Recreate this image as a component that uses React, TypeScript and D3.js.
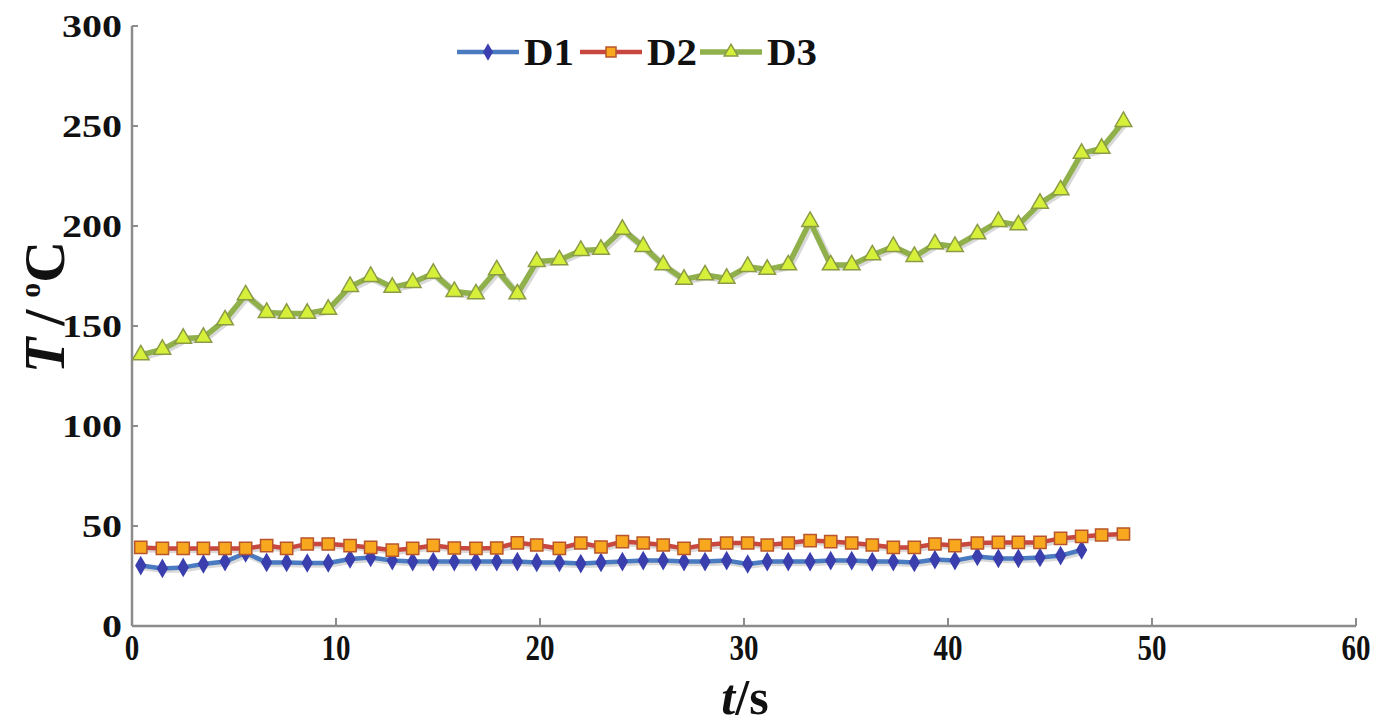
import React from "react";
import * as d3 from "d3";

const times = [0.43, 1.49, 2.51, 3.5, 4.56, 5.57, 6.6, 7.58, 8.59, 9.62, 10.69, 11.7, 12.76, 13.76, 14.77, 15.8, 16.86, 17.88, 18.89, 19.84, 20.95, 22.0, 22.99, 24.04, 25.06, 26.04, 27.06, 28.09, 29.15, 30.18, 31.14, 32.17, 33.24, 34.25, 35.28, 36.29, 37.32, 38.35, 39.36, 40.34, 41.44, 42.47, 43.45, 44.51, 45.52, 46.55, 47.53, 48.6];

const d1Values = [30.2, 28.8, 29.3, 31, 32.2, 36.5, 31.8, 31.8, 31.5, 31.5, 33.5, 34.3, 32.7, 32.2, 32.2, 32.2, 32.2, 32.2, 32.2, 31.8, 31.8, 31.2, 31.8, 32.2, 32.7, 32.7, 32.2, 32.2, 32.7, 31, 32.2, 32.2, 32.2, 32.7, 32.7, 32.2, 32.2, 31.8, 33.2, 32.7, 34.8, 33.8, 33.8, 34.3, 35.2, 38];

const d2Values = [39.3, 38.8, 38.8, 38.8, 38.8, 38.8, 40.2, 38.8, 41, 41, 40.2, 39.3, 37.9, 38.8, 40.3, 39, 38.8, 39, 41.6, 40.5, 38.8, 41.5, 39.5, 42.2, 41.5, 40.5, 38.8, 40.5, 41.5, 41.5, 40.5, 41.5, 42.7, 42.2, 41.5, 40.5, 39.3, 39.3, 41, 40.2, 41.5, 41.8, 41.8, 41.8, 43.8, 44.8, 45.5, 46];

const d3Values = [135.5, 138.3, 143.8, 144.3, 153, 165.5, 156.7, 156.3, 156.3, 158.3, 169.7, 174.7, 169.3, 171.7, 176.3, 167.2, 166, 178, 166, 182.2, 183, 187.7, 188.3, 198.3, 189.7, 180.5, 173.3, 175.5, 173.8, 179.7, 178.3, 180.5, 202.2, 180.5, 180.5, 185.5, 189.7, 184.7, 191, 189.7, 196, 202.2, 200.5, 211.3, 218, 236.3, 238.8, 252.2];

const xTicks = [0, 10, 20, 30, 40, 50, 60];
const yTicks = [0, 50, 100, 150, 200, 250, 300];
const seriesNames = ["D1", "D2", "D3"];

const FONT = "'Liberation Serif', 'Times New Roman', serif";

const x = d3.scaleLinear().domain([0, 60]).range([132, 1356]);
const y = d3.scaleLinear().domain([0, 300]).range([626, 26]);

type Pt = [number, number];
const mk = (vals: number[]): Pt[] => vals.map((v, i) => [times[i], v]);

const line = d3
  .line<Pt>()
  .x((d) => x(d[0]))
  .y((d) => y(d[1]));

const series = [
  {
    name: seriesNames[0],
    data: mk(d1Values),
    stroke: "#4a7ac0",
    width: 4.5,
    symbol: d3.symbolDiamond,
    size: 80,
    legendSize: 60,
    fill: "#3b3fae",
    mstroke: "#3b3fae",
  },
  {
    name: seriesNames[1],
    data: mk(d2Values),
    stroke: "#c8473f",
    width: 4.5,
    symbol: d3.symbolSquare,
    size: 150,
    legendSize: 100,
    fill: "#f7a81f",
    mstroke: "#b8552c",
  },
  {
    name: seriesNames[2],
    data: mk(d3Values),
    stroke: "#8fb04a",
    width: 5.5,
    symbol: d3.symbolTriangle,
    size: 120,
    legendSize: 80,
    fill: "#d6f03a",
    mstroke: "#8a9a45",
  },
];

const legendX = [457, 580, 700];
const legendY = 52;

export default function App() {
  return (
    <svg
      width={1386}
      height={725}
      style={{ position: "absolute", left: 0, top: 0, background: "#fff" }}
    >
      {/* axes */}
      <line x1={x(0)} x2={x(0)} y1={y(0)} y2={y(300)} stroke="#8c8c8c" strokeWidth={2.5} />
      <line x1={x(0)} x2={x(60)} y1={y(0)} y2={y(0)} stroke="#8c8c8c" strokeWidth={2.5} />
      {yTicks.map((t) => (
        <g key={"yt" + t}>
          <line x1={x(0)} x2={x(0) + 6} y1={y(t)} y2={y(t)} stroke="#8c8c8c" strokeWidth={2} />
          <text
            x={122}
            y={y(t) + 11}
            textAnchor="end"
            fontFamily={FONT}
            fontWeight="bold"
            fontSize={32}
            textLength={20 * String(t).length}
            lengthAdjust="spacingAndGlyphs"
            fill="#111"
          >
            {t}
          </text>
        </g>
      ))}
      {xTicks.map((t) => (
        <g key={"xt" + t}>
          <line x1={x(t)} x2={x(t)} y1={y(0)} y2={y(0) - 8} stroke="#8c8c8c" strokeWidth={2} />
          <text
            x={x(t)}
            y={660}
            textAnchor="middle"
            fontFamily={FONT}
            fontWeight="bold"
            fontSize={36}
            textLength={14.5 * String(t).length}
            lengthAdjust="spacingAndGlyphs"
            fill="#111"
          >
            {t}
          </text>
        </g>
      ))}

      {/* axis titles */}
      <text
        x={745}
        y={714}
        textAnchor="middle"
        fontFamily={FONT}
        fontWeight="bold"
        fontStyle="italic"
        fontSize={50}
        fill="#111"
      >
        <tspan>t</tspan>
        <tspan fontStyle="normal">/s</tspan>
      </text>
      <text
        transform="translate(64,307) rotate(-90)"
        textAnchor="middle"
        fontFamily={FONT}
        fontWeight="bold"
        fontSize={58}
        fill="#111"
      >
        <tspan fontStyle="italic">T</tspan>
        <tspan dx={12}>/</tspan>
        <tspan fontSize={30} dx={12} dy={-24}>o</tspan>
        <tspan dy={24}>C</tspan>
      </text>

      {/* series */}
      {series.map((s) => (
        <g key={s.name}>
          <path
            d={line(s.data) || ""}
            fill="none"
            stroke="#000"
            strokeOpacity={0.15}
            strokeWidth={s.width + 2}
            transform="translate(1.5,1.5)"
          />
          <path d={line(s.data) || ""} fill="none" stroke={s.stroke} strokeWidth={s.width} strokeLinejoin="round" />
          {s.data.map((d, i) => (
            <path
              key={i}
              d={d3.symbol().type(s.symbol).size(s.size)() || ""}
              transform={`translate(${x(d[0])},${y(d[1])})`}
              fill={s.fill}
              stroke={s.mstroke}
              strokeWidth={1.5}
            />
          ))}
        </g>
      ))}

      {/* legend */}
      {series.map((s, i) => (
        <g key={"lg" + s.name}>
          <line
            x1={legendX[i]}
            x2={legendX[i] + 62}
            y1={legendY}
            y2={legendY}
            stroke={s.stroke}
            strokeWidth={s.width}
          />
          <path
            d={d3.symbol().type(s.symbol).size(s.legendSize)() || ""}
            transform={`translate(${legendX[i] + 31},${legendY})`}
            fill={s.fill}
            stroke={s.mstroke}
            strokeWidth={1.5}
          />
          <text
            x={legendX[i] + 67}
            y={legendY + 13}
            fontFamily={FONT}
            fontWeight="bold"
            fontSize={38}
            textLength={50}
            lengthAdjust="spacingAndGlyphs"
            fill="#111"
          >
            {s.name}
          </text>
        </g>
      ))}
    </svg>
  );
}
